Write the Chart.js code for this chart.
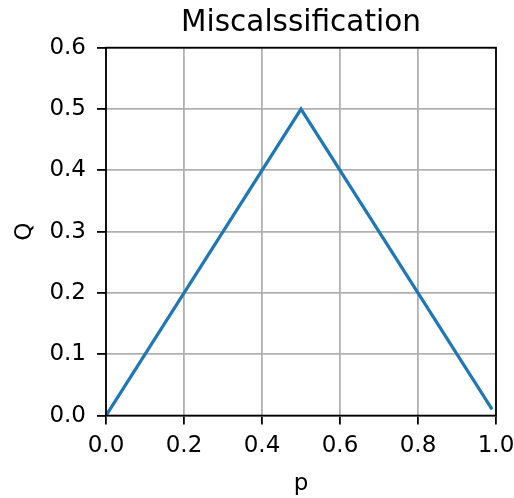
<!DOCTYPE html>
<html>
<head>
<meta charset="utf-8">
<script src="https://cdn.jsdelivr.net/npm/chart.js@4"></script>
<style>
  html, body { margin: 0; padding: 0; background: #fff; }
  canvas { display: block; }
</style>
</head>
<body>
<canvas id="chart1" width="514" height="498"></canvas>
<script>
// misclassification error Q = 1 - max(p, 1 - p), breakpoints of the curve
const pValues = [0.0, 0.5, 0.99];
const qValues = [0.0, 0.5, 0.01];
const xTicks = [0.0, 0.2, 0.4, 0.6, 0.8, 1.0];
const yTicks = [0.0, 0.1, 0.2, 0.3, 0.4, 0.5, 0.6];

const font = 'DejaVu Sans';

// black frame around the plot area (top and right spines too)
const frame = {
    id: 'frame',
    afterDatasetsDraw(chart) {
        const a = chart.chartArea;
        const ctx = chart.ctx;
        ctx.save();
        ctx.strokeStyle = '#000';
        ctx.lineWidth = 1.8;
        ctx.strokeRect(a.left, a.top, a.right - a.left, a.bottom - a.top);
        ctx.restore();
    }
};

const chart1 = document.getElementById('chart1');
new Chart(chart1, {
    type: 'scatter',
    data: {
        datasets: [{
            label: 'Q',
            data: pValues.map((p, i) => ({x: p, y: qValues[i]})),
            showLine: true,
            borderColor: '#1f77b4',
            borderWidth: 3.2,
            pointRadius: 0,
            tension: 0,
            clip: false
        }]
    },
    options: {
        responsive: false,
        animation: false,
        layout: {
            padding: {left: 0, right: 18, top: 0, bottom: 0}
        },
        plugins: {
            legend: {display: false},
            tooltip: {enabled: false},
            title: {
                display: true,
                fullSize: false,
                text: 'Miscalssification',
                color: '#000',
                font: {family: font, size: 29.5, weight: 'normal'},
                padding: {top: 6, bottom: 6.3}
            }
        },
        scales: {
            x: {
                type: 'linear',
                min: 0,
                max: 1,
                afterFit: s => { s.height = 82.4; s.paddingRight = 0; s.paddingLeft = 0; },
                afterBuildTicks: s => { s.ticks = xTicks.map(v => ({value: v})); },
                grid: {color: '#b0b0b0', lineWidth: 1.8, tickColor: '#000', tickLength: 9},
                border: {display: false},
                ticks: {
                    color: '#000',
                    padding: 8,
                    maxRotation: 0,
                    font: {family: font, size: 23},
                    callback: v => v.toFixed(1)
                },
                title: {
                    display: true,
                    text: 'p',
                    color: '#000',
                    font: {family: font, size: 23},
                    padding: {top: 0, bottom: 0}
                }
            },
            y: {
                type: 'linear',
                min: 0,
                max: 0.6,
                afterFit: s => { s.width = 106; s.paddingTop = 0; s.paddingBottom = 0; },
                afterBuildTicks: s => { s.ticks = yTicks.map(v => ({value: v})); },
                grid: {color: '#b0b0b0', lineWidth: 1.8, tickColor: '#000', tickLength: 9},
                border: {display: false},
                ticks: {
                    color: '#000',
                    padding: 11,
                    font: {family: font, size: 23},
                    callback: v => v.toFixed(1)
                },
                title: {
                    display: true,
                    text: 'Q',
                    color: '#000',
                    font: {family: font, size: 23},
                    padding: {top: 11, bottom: 0}
                }
            }
        }
    },
    plugins: [frame]
});
</script>
</body>
</html>
